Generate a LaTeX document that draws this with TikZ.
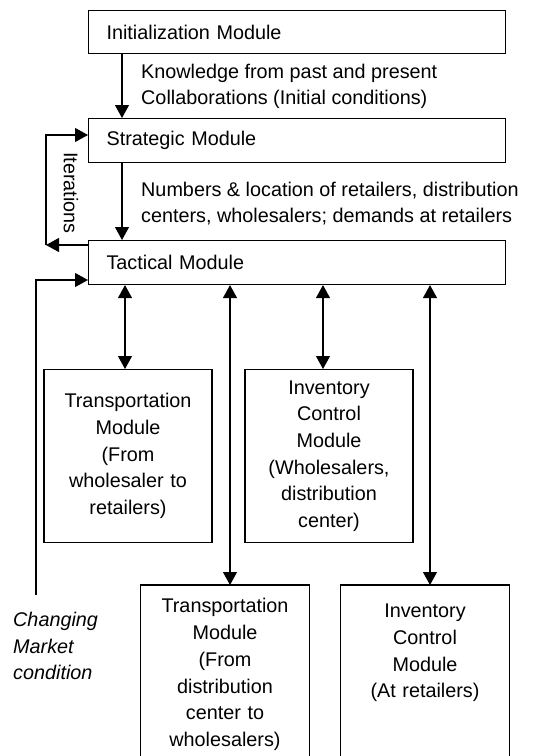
\documentclass[tikz,border=0pt]{standalone}
\usepackage{fontspec}
\setmainfont{Liberation Sans}
\usetikzlibrary{arrows.meta}
\begin{document}
\begin{tikzpicture}[x=1pt,y=1pt,
  every node/.style={font=\fontsize{19.8}{26.7}\selectfont},
  big/.style={draw, line width=1.1pt, minimum width=417pt, text width=381pt, inner xsep=18pt, align=left, anchor=north west},
  small/.style={draw, line width=1.1pt, minimum width=168pt, text width=160pt, inner xsep=4pt, align=center, anchor=north},
  lbl/.style={inner sep=0pt, align=left},
  arr/.style={line width=1.1pt, -{Triangle[length=13pt,width=14pt]}},
  darr/.style={line width=1.1pt, {Triangle[length=13pt,width=14pt]}-{Triangle[length=13pt,width=14pt]}},
  ln/.style={line width=1.1pt}]
\useasboundingbox (0,0) rectangle (555,-756);
\clip (0,0) rectangle (555,-756);

\node[big, minimum height=43pt] (init) at (88,-10) {Initialization Module};
\node[big, minimum height=44pt] (strat) at (88,-118) {Strategic Module};
\node[big, minimum height=44pt] (tact) at (88,-240) {Tactical Module};

\node[lbl, anchor=west] (know) at (141,-86.5) {Knowledge from past and present\\Collaborations (Initial conditions)};
\node[lbl, anchor=west] (numb) at (141,-203.5) {Numbers \& location of retailers, distribution\\centers, wholesalers; demands at retailers};

\coordinate (c1) at (122,0);
\draw[arr] (init.south -| c1) -- (strat.north -| c1);
\draw[arr] (strat.south -| c1) -- (tact.north -| c1);

% iterations loop
\coordinate (ib) at (46,-245);
\coordinate (itop) at (46,-135);
\draw[arr] (tact.west |- ib) -- (ib);
\draw[arr] (ib) -- (itop) -- (strat.west |- itop);
\node[rotate=-90, inner sep=0pt] (iter) at (71,-193) {Iterations};

% changing market condition
\coordinate (cm0) at (36,-595);
\coordinate (cm1) at (36,-280);
\draw[arr] (cm0) -- (cm1) -- (tact.west |- cm1);
\node[lbl, anchor=west, font=\fontsize{19.8}{26.7}\selectfont\itshape] (cmt) at (13,-646) {Changing\\Market\\condition};

% sub modules
\node[small, minimum height=173pt] (tm1) at (128,-369) {Transportation\\Module\\(From\\wholesaler to\\retailers)};
\node[small, minimum height=173pt] (ic1) at (329,-369) {Inventory\\Control\\Module\\(Wholesalers,\\distribution\\center)};
\node[small, draw=none, minimum height=178pt] (tm2) at (225,-585) {Transportation\\Module\\(From\\distribution\\center to\\wholesalers)};
\node[small, draw=none, minimum height=135pt] (ic2) at (425,-585) {Inventory\\Control\\Module\\(At retailers)};

\coordinate (bot) at (0,-790);
\draw[ln] (tm2.north west |- bot) -- (tm2.north west) -- (tm2.north east) -- (tm2.north east |- bot);
\draw[ln] (ic2.north west |- bot) -- (ic2.north west) -- (ic2.north east) -- (ic2.north east |- bot);

\coordinate (a1) at (125,0);
\coordinate (a2) at (230,0);
\coordinate (a3) at (323,0);
\coordinate (a4) at (430,0);
\draw[darr] (tact.south -| a1) -- (tm1.north -| a1);
\draw[darr] (tact.south -| a2) -- (tm2.north -| a2);
\draw[darr] (tact.south -| a3) -- (ic1.north -| a3);
\draw[darr] (tact.south -| a4) -- (ic2.north -| a4);
\end{tikzpicture}
\end{document}
